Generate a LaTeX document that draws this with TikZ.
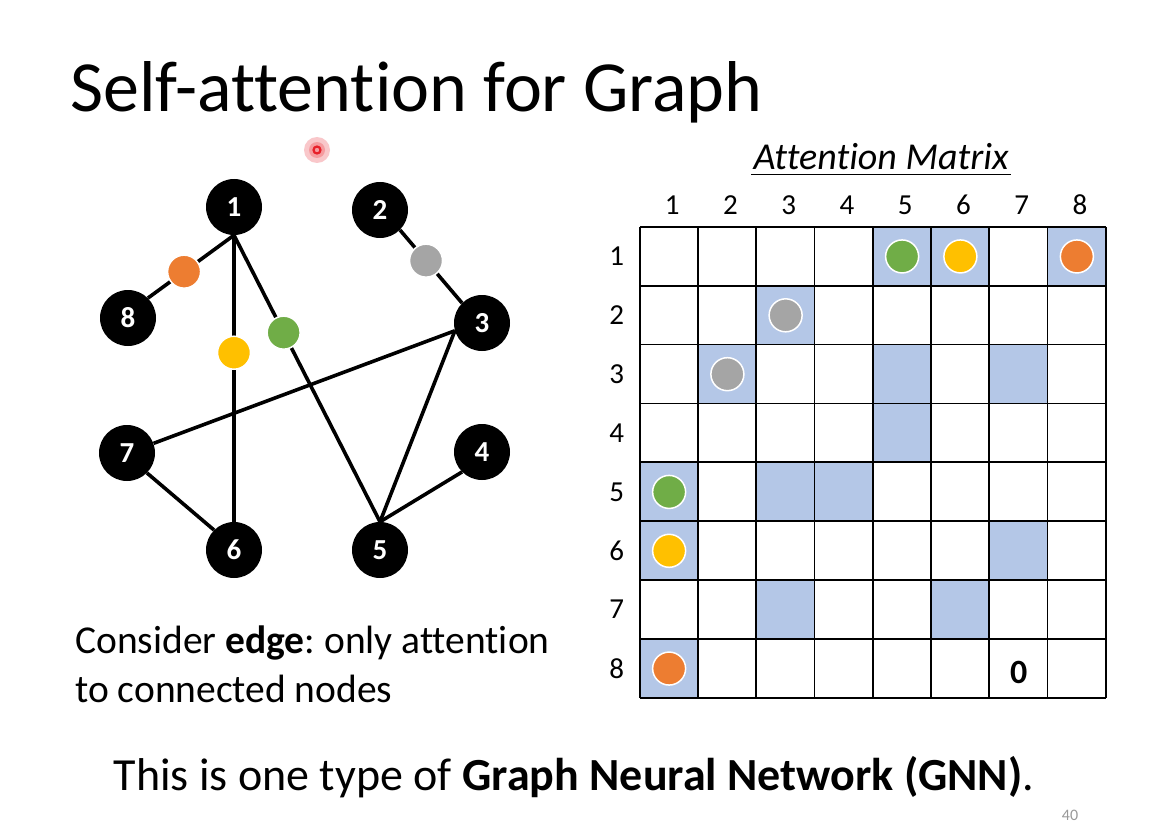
\documentclass[tikz,border=0pt]{standalone}
\usepackage{fontspec}
\setmainfont{Carlito}[Ligatures=NoCommon]
\frenchspacing
\definecolor{cellblue}{HTML}{B4C7E7}
\definecolor{dotgreen}{HTML}{70AD47}
\definecolor{dotyellow}{HTML}{FFC000}
\definecolor{dotorange}{HTML}{ED7D31}
\definecolor{dotgray}{HTML}{A5A5A5}
\definecolor{laser}{HTML}{E8202A}
\begin{document}
\begin{tikzpicture}[x=1pt, y=-1pt,
        vertex/.style={circle, fill=black, text=white, inner sep=0pt, minimum size=56pt, font=\fontsize{29}{29}\selectfont\bfseries},
        link/.style={line width=3.6pt},
        dot/.style={circle, draw=white, line width=1.5pt, inner sep=0pt, minimum size=33pt},
        cell/.style={rectangle, inner sep=0pt, minimum width=58.25pt, minimum height=58.875pt},
        gridline/.style={line width=1.8pt},
        idx/.style={font=\fontsize{29}{29}\selectfont}]
        \useasboundingbox[fill=white] (0,0) rectangle (1157,840);

        % title and laser pointer
        \node[anchor=base west, inner sep=0pt, font=\fontsize{72}{72}\selectfont] (title) at (70,112) {Self-attention for Graph};
        \fill[laser!25] (317,150) circle (13pt);
        \fill[laser!45] (317,150) circle (8pt);
        \draw[laser, line width=2.2pt] (317,150) circle (3.5pt);

        % graph
        \node[vertex] (n1) at (234,207) {1};
        \node[vertex] (n2) at (380,210) {2};
        \node[vertex] (n3) at (482,323) {3};
        \node[vertex] (n4) at (482,452) {4};
        \node[vertex] (n5) at (380,550) {5};
        \node[vertex] (n6) at (234,550) {6};
        \node[vertex] (n7) at (127,453) {7};
        \node[vertex] (n8) at (128,318) {8};
        \draw[link] (n1.south) -- node[dot, fill=dotorange, pos=0.58] (d18) {} (n8.north east);
        \draw[link] (n1.south) -- node[dot, fill=dotyellow, pos=0.41] (d16) {} (n6.north);
        \draw[link] (n1.south) -- node[dot, fill=dotgreen, pos=0.34] (d15) {} (n5.north);
        \draw[link] (n2.south east) -- node[dot, fill=dotgray, pos=0.42] (d23) {} (n3.north west);
        \draw[link] (n3.196) -- (n7.20);
        \draw[link] (n3.196) -- (n5.north);
        \draw[link] (n4.south west) -- (n5.north);
        \draw[link] (n7.south east) -- (n6.north west);

        \node[anchor=base west, inner sep=0pt, align=left, font=\fontsize{39.5}{49}\selectfont] (note) at (75,702) {Consider \textbf{edge}: only attention\\to connected nodes};

        % attention matrix
        \foreach \r in {1,...,8}
            \foreach \c in {1,...,8}
                \node[cell] (m\r\c) at ({610.875+58.25*\c}, {197.56+58.875*\r}) {};
        \foreach \r/\c in {1/5,1/6,1/8,2/3,3/2,3/5,3/7,4/5,5/1,5/3,5/4,6/1,6/7,7/3,7/6,8/1}
            \fill[cellblue] (m\r\c.south west) rectangle (m\r\c.north east);
        \foreach \c in {1,...,8}
            \draw[gridline] (m1\c.north west) -- (m8\c.south west);
        \draw[gridline] (m18.north east) -- (m88.south east);
        \foreach \r in {1,...,8}
            \draw[gridline] (m\r1.north west) -- (m\r8.north east);
        \draw[gridline] (m81.south west) -- (m88.south east);
        \foreach \c in {1,...,8}
            \node[idx] (top\c) at ([xshift=3pt, yshift=22pt]m1\c.north) {\c};
        \foreach \r in {1,...,8}
            \node[idx] (side\r) at ([xshift=-23pt]m\r1.west) {\r};
        \node[font=\fontsize{38}{38}\selectfont\itshape, inner xsep=2pt, inner ysep=4pt] (mtitle) at (881,157) {Attention Matrix};
        \draw[line width=1.5pt] (mtitle.south west) -- (mtitle.south east);

        \node[dot, fill=dotgreen] (e15) at (m15) {};
        \node[dot, fill=dotyellow] (e16) at (m16) {};
        \node[dot, fill=dotorange] (e18) at (m18) {};
        \node[dot, fill=dotgray] (e23) at (m23) {};
        \node[dot, fill=dotgray] (e32) at (m32) {};
        \node[dot, fill=dotgreen] (e51) at (m51) {};
        \node[dot, fill=dotyellow] (e61) at (m61) {};
        \node[dot, fill=dotorange] (e81) at (m81) {};
        \node[font=\fontsize{34}{34}\selectfont\bfseries] (zero) at ([yshift=-4pt]m87) {0};

        \node[anchor=base, inner sep=0pt, font=\fontsize{46}{46}\selectfont] (gnn) at (574,790) {This is one type of \textbf{Graph Neural Network (GNN)}.};
        \node[text=black!40, font=\fontsize{16}{16}\selectfont] (page) at (1070,815) {40};
    \end{tikzpicture}
\end{document}
